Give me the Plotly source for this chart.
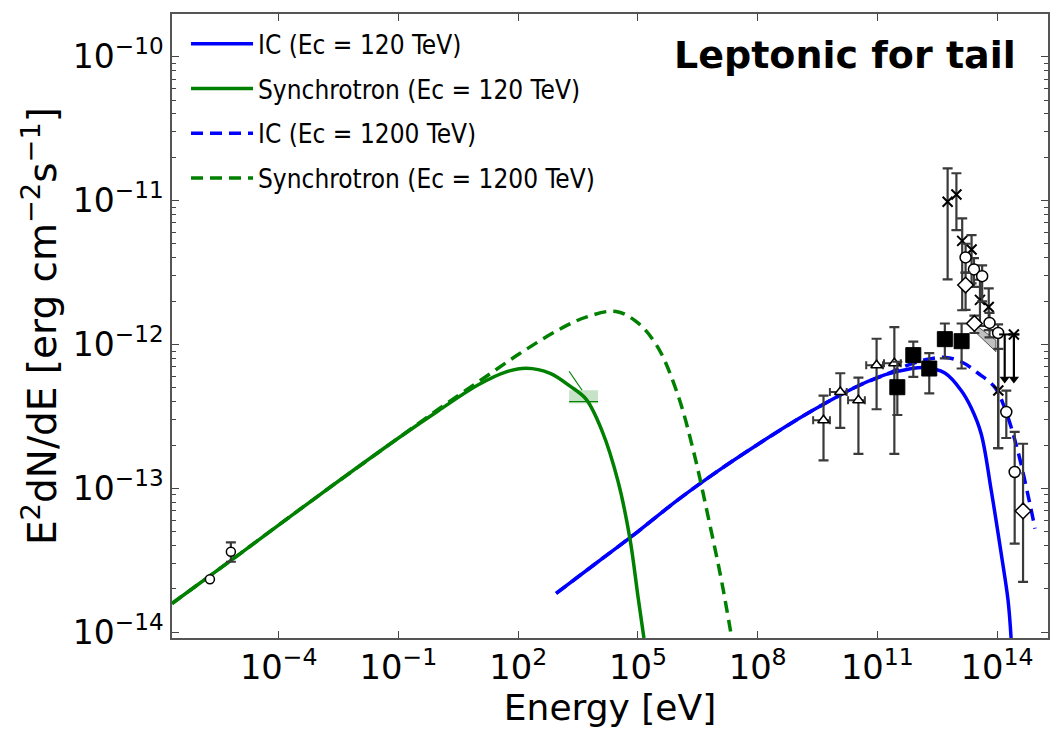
import numpy as np
import plotly.graph_objects as go

# ---------------- model curves (log10 E [eV], log10 E^2dN/dE [erg cm^-2 s^-1]) -------------
sync120_logE = [-6.675, -5.0, -3.0, -1.0, 0.0, 1.0, 1.7, 2.2, 2.8, 3.3, 3.7, 4.1, 4.5, 4.8, 5.0, 5.15]
sync120_logF = [-13.80, -13.46, -13.05, -12.65, -12.46, -12.28, -12.19, -12.165, -12.20, -12.29,
                -12.38, -12.60, -12.95, -13.35, -13.75, -14.04]

sync1200_logE = [-6.675, -5.0, -3.0, -1.0, 0.0, 1.0, 2.0, 3.0, 3.7, 4.45, 5.0, 5.5, 6.0, 6.4, 6.8, 7.1, 7.35]
sync1200_logF = [-13.80, -13.46, -13.05, -12.65, -12.45, -12.26, -12.07, -11.90, -11.81, -11.77,
                 -11.85, -12.02, -12.35, -12.75, -13.25, -13.65, -14.04]

ic120_logE = [2.95, 4.0, 5.0, 6.0, 7.0, 8.0, 9.0, 9.75, 10.5, 11.2, 11.8, 12.2, 12.7, 13.1, 13.35, 13.6,
              13.85, 14.1, 14.275, 14.35]
ic120_logF = [-13.73, -13.51, -13.30, -13.08, -12.88, -12.695, -12.52, -12.40, -12.29, -12.21, -12.17,
              -12.16, -12.20, -12.32, -12.44, -12.62, -13.01, -13.45, -13.78, -14.04]

ic1200_logE = [2.95, 4.0, 5.0, 6.0, 7.0, 8.0, 9.0, 9.75, 10.5, 11.2, 11.8, 12.3, 12.7, 13.1, 13.525,
               13.95, 14.2, 14.5, 14.8, 14.95]
ic1200_logF = [-13.73, -13.51, -13.30, -13.08, -12.88, -12.695, -12.52, -12.40, -12.29, -12.21, -12.14,
               -12.10, -12.09, -12.12, -12.20, -12.30, -12.45, -12.72, -13.08, -13.28]

# ---------------- observational data ----------------
# low-energy (radio) open circles
radio_logE = [-5.725, -5.2]
radio_logF = [-13.632, -13.44]
radio_hi = [-13.632, -13.375]
radio_lo = [-13.632, -13.51]

# X-ray bow-tie
xray_box_logE = [3.275, 4.0, 4.0, 3.275, 3.275]
xray_box_logF = [-12.318, -12.318, -12.41, -12.41, -12.318]
xray_line_logE = [3.275, 3.6, 3.6, 3.275, 4.0]
xray_line_logF = [-12.186, -12.318, -12.397, -12.397, -12.397]

# open triangles
tri_logE = [9.65, 10.07, 10.525, 10.98, 11.425]
tri_logF = [-12.527, -12.33, -12.387, -12.144, -12.13]
tri_hi = [-12.355, -12.20, -12.23, -11.96, -11.88]
tri_lo = [-12.806, -12.58, -12.76, -12.45, -12.76]

# filled squares
sq_logE = [11.5, 11.9, 12.3, 12.69, 13.11]
sq_logF = [-12.297, -12.074, -12.167, -11.963, -11.977]
sq_hi = [-12.12, -11.98, -12.06, -11.854, -11.854]
sq_lo = [-12.49, -12.225, -12.34, -12.097, -12.167]

# crosses
x_logE = [12.76, 12.98, 13.125, 13.36, 13.57, 13.79, 14.03, 14.42]
x_logF = [-11.008, -10.957, -11.28, -11.34, -11.69, -11.739, -12.32, -11.93]
x_hi = [-10.776, -10.81, -11.124, -11.24, -11.55, -11.61, -12.03, -11.93]
x_lo = [-11.548, -11.205, -11.762, -11.575, -11.87, -11.90, -12.72, -11.93]

# open circles
circ_logE = [13.21, 13.42, 13.625, 13.81, 14.025, 14.23, 14.44]
circ_logF = [-11.395, -11.478, -11.525, -11.85, -11.92, -12.469, -12.886]
circ_hi = [-11.30, -11.40, -11.45, -11.78, -11.86, -12.32, -12.608]
circ_lo = [-11.50, -11.60, -11.70, -11.95, -12.72, -12.65, -13.384]

# open diamonds
dia_logE = [13.21, 13.43, 14.65]
dia_logF = [-11.587, -11.854, -13.157]
dia_hi = [-11.50, -11.80, -12.69]
dia_lo = [-11.76, -11.92, -13.65]

# upper limits
ul_logE = [14.19, 14.42]
ul_top = [-11.93, -11.93]
ul_bot = [-12.24, -12.24]

# gray band
band_logE = [13.44, 13.97]
band_hi = [-11.86, -11.97]
band_lo = [-11.91, -12.05]

# axis tick labels
y_tick_exp = [-14, -13, -12, -11, -10]
y_tick_text = ["10<sup>−14</sup>", "10<sup>−13</sup>", "10<sup>−12</sup>", "10<sup>−11</sup>", "10<sup>−10</sup>"]

P = lambda a: np.power(10.0, np.asarray(a, dtype=float))

fig = go.Figure()

BLUE = "#0000ff"
GREEN = "#008000"
LW = 3.5
DASH = "12px,7px"
ERRC = "#3a3a3a"

def err(val, hi, lo):
    v, h, l = P(val), P(hi), P(lo)
    return dict(type="data", symmetric=False, array=h - v, arrayminus=v - l,
                color=ERRC, thickness=2.2, width=5)

# gray band
fig.add_trace(go.Scatter(x=P(band_logE + band_logE[::-1]), y=P(band_hi + band_lo[::-1]),
                         fill="toself", fillcolor="rgba(150,150,150,0.6)", mode="lines",
                         line=dict(color="#555555", width=1), showlegend=False, hoverinfo="skip"))

# X-ray box
fig.add_trace(go.Scatter(x=P(xray_box_logE), y=P(xray_box_logF), fill="toself",
                         fillcolor="rgba(0,128,0,0.22)", mode="lines", line=dict(width=0),
                         showlegend=False, hoverinfo="skip"))
fig.add_trace(go.Scatter(x=P(xray_line_logE[:2]), y=P(xray_line_logF[:2]), mode="lines",
                         line=dict(color=GREEN, width=1.2), showlegend=False))
fig.add_trace(go.Scatter(x=P(xray_line_logE[3:]), y=P(xray_line_logF[3:]), mode="lines",
                         line=dict(color=GREEN, width=1.2), showlegend=False))

# model curves
fig.add_trace(go.Scatter(x=P(ic120_logE), y=P(ic120_logF), mode="lines", line_shape="spline",
                         name="IC (Ec = 120 TeV)", legendgroup="g1", line=dict(color=BLUE, width=LW)))
fig.add_trace(go.Scatter(x=P(sync120_logE), y=P(sync120_logF), mode="lines", line_shape="spline",
                         name="Synchrotron (Ec = 120 TeV)", legendgroup="g2", line=dict(color=GREEN, width=LW)))
fig.add_trace(go.Scatter(x=P(ic1200_logE), y=P(ic1200_logF), mode="lines", line_shape="spline",
                         name="IC (Ec = 1200 TeV)", legendgroup="g3", line=dict(color=BLUE, width=LW, dash=DASH)))
fig.add_trace(go.Scatter(x=P(sync1200_logE), y=P(sync1200_logF), mode="lines", line_shape="spline",
                         name="Synchrotron (Ec = 1200 TeV)", legendgroup="g4",
                         line=dict(color=GREEN, width=LW, dash=DASH)))

# data points
fig.add_trace(go.Scatter(x=P(radio_logE), y=P(radio_logF), mode="markers", showlegend=False,
                         error_y=err(radio_logF, radio_hi, radio_lo),
                         marker=dict(symbol="circle", size=9, color="white", line=dict(color="black", width=1.5))))
fig.add_trace(go.Scatter(x=P(tri_logE), y=P(tri_logF), mode="markers", showlegend=False,
                         error_y=err(tri_logF, tri_hi, tri_lo),
                         error_x=dict(type="percent", value=45, color=ERRC, thickness=2, width=4),
                         marker=dict(symbol="triangle-up", size=10, color="white", line=dict(color="black", width=1.5))))
fig.add_trace(go.Scatter(x=P(sq_logE), y=P(sq_logF), mode="markers", showlegend=False,
                         error_y=err(sq_logF, sq_hi, sq_lo),
                         marker=dict(symbol="square", size=15, color="black", line=dict(color="black", width=1))))
fig.add_trace(go.Scatter(x=P(x_logE), y=P(x_logF), mode="markers", showlegend=False,
                         error_y=err(x_logF, x_hi, x_lo),
                         marker=dict(symbol="x-thin", size=10, color="black", line=dict(color="black", width=2))))
fig.add_trace(go.Scatter(x=P(circ_logE), y=P(circ_logF), mode="markers", showlegend=False,
                         error_y=err(circ_logF, circ_hi, circ_lo),
                         marker=dict(symbol="circle", size=11, color="white", line=dict(color="black", width=1.5))))
fig.add_trace(go.Scatter(x=P(dia_logE), y=P(dia_logF), mode="markers", showlegend=False,
                         error_y=err(dia_logF, dia_hi, dia_lo),
                         marker=dict(symbol="diamond", size=12, color="white", line=dict(color="black", width=1.5))))
# upper limits: vertical line + arrow head
ul_plus = [0.0] * len(ul_logE)
fig.add_trace(go.Scatter(x=P(ul_logE), y=P(ul_top), mode="markers", showlegend=False,
                         error_y=dict(type="data", symmetric=False, array=ul_plus,
                                      arrayminus=P(ul_top) - P(ul_bot), color="black", thickness=2.2, width=0),
                         marker=dict(symbol="line-ew", size=8, line=dict(color="black", width=2))))
fig.add_trace(go.Scatter(x=P(ul_logE), y=P(ul_bot), mode="markers", showlegend=False,
                         marker=dict(symbol="triangle-down", size=9, color="black")))

minor_vals = [m * 10.0 ** e for e in range(-15, -9) for m in range(2, 10)]

fig.update_layout(
    width=1050, height=730,
    margin=dict(l=172, r=0, t=14, b=92),
    paper_bgcolor="white", plot_bgcolor="white",
    font=dict(family="DejaVu Sans", color="black"),
    showlegend=True,
    legend=dict(x=0.016, y=0.99, xanchor="left", yanchor="top", bgcolor="rgba(0,0,0,0)",
                traceorder="grouped", tracegroupgap=8,
                font=dict(family="Liberation Sans Narrow, DejaVu Sans Condensed, Roboto", size=26, color="black"),
                itemwidth=62),
    xaxis=dict(type="log", range=[-6.675, 15.275], tick0=-1, dtick=3, exponentformat="power",
               showexponent="all", ticks="inside", ticklen=7, tickwidth=1.3, tickcolor="#444",
               showline=True, linecolor="#555", linewidth=1.6, mirror="ticks", showgrid=False, zeroline=False,
               tickfont=dict(size=27, family="DejaVu Sans", color="black"),
               title=dict(text="Energy [eV]", font=dict(size=36, family="DejaVu Sans", color="black"), standoff=6)),
    yaxis=dict(type="log", range=[-14.04, -9.703], tickmode="array", tickvals=P(y_tick_exp),
               ticktext=y_tick_text,
               ticks="inside", ticklen=7, tickwidth=1.3, tickcolor="#444",
               showline=True, linecolor="#555", linewidth=1.6, mirror="ticks", showgrid=False, zeroline=False,
               minor=dict(ticks="inside", ticklen=4, tickvals=minor_vals, tickcolor="#444", tickwidth=1),
               tickfont=dict(size=33, family="DejaVu Sans", color="black"),
               title=dict(text="E<sup>2</sup>dN/dE [erg cm<sup>−2</sup>s<sup>−1</sup>]",
                          font=dict(size=39, family="DejaVu Sans", color="black"), standoff=4)),
    annotations=[dict(text="<b>Leptonic for tail</b>", xref="paper", yref="paper", x=0.966, y=0.935,
                      xanchor="right", yanchor="middle", showarrow=False,
                      font=dict(size=38, family="DejaVu Sans", color="black"))],
)

fig.write_html("out.html")
